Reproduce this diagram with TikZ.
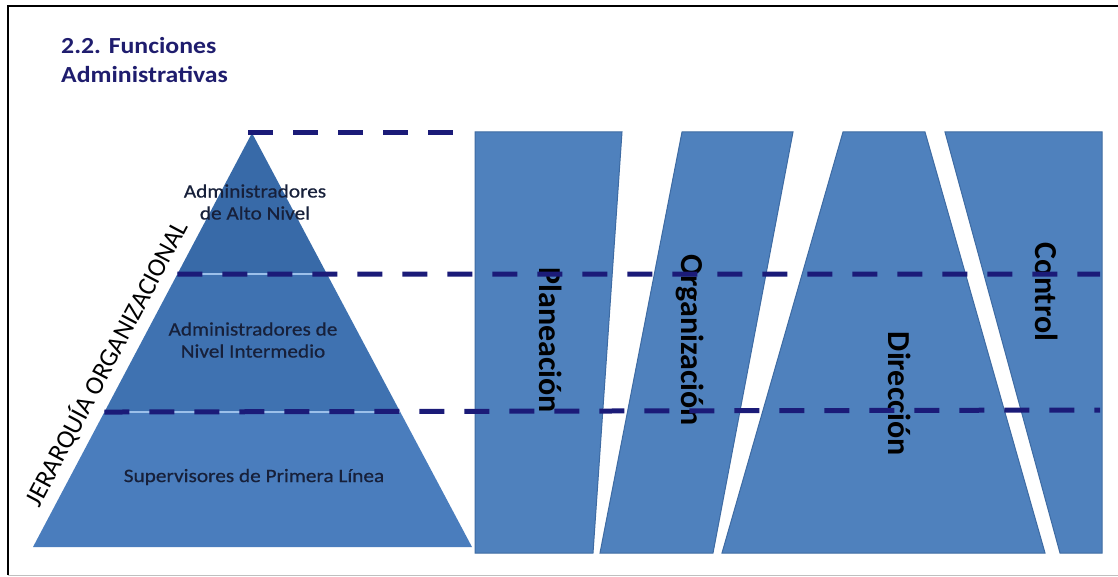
\documentclass[tikz,border=0pt]{standalone}
\usepackage{fontspec}
\setmainfont{Carlito}[FakeStretch=1.12]
\newfontfamily\vfont{Carlito}
\newfontfamily\semibold{Carlito}[FakeStretch=1.12,FakeBold=0.6]
\usetikzlibrary{calc}
\definecolor{navy}{HTML}{1B1B78}
\definecolor{titlecol}{HTML}{1F1D6E}
\definecolor{pyrtop}{HTML}{386AA8}
\definecolor{pyrmid}{HTML}{3F72B1}
\definecolor{pyrbot}{HTML}{4A7DBD}
\definecolor{boxfill}{HTML}{4F81BD}
\definecolor{boxline}{HTML}{3E6BA3}
\definecolor{lbl}{HTML}{17203A}
\definecolor{glow}{HTML}{9CC0EA}
\begin{document}
\begin{tikzpicture}[x=1pt,y=-1pt,
  dashline/.style={draw=navy,line width=5pt,dash pattern=on 25pt off 20pt},
  glowline/.style={draw=glow,line width=2.5pt},
  colbox/.style={fill=boxfill,draw=boxline,line width=1pt},
  pyrlbl/.style={text=lbl,font=\semibold\fontsize{19}{22}\selectfont,align=center,inner sep=0pt},
  vlbl/.style={text=black,font=\vfont\bfseries\fontsize{32}{36}\selectfont,rotate=-90,inner sep=0pt},
  ttl/.style={text=titlecol,font=\bfseries\fontsize{23}{29}\selectfont,inner sep=0pt,anchor=base west}]
\useasboundingbox (0,0) rectangle (1118,577);
\fill[white] (0,0) rectangle (1118,577);
% frame
\draw[black,line width=1.2pt] (8,575) -- (8,6) -- (1118,6);
\draw[gray!50,line width=0.8pt] (8,575) -- (1118,575);
% title
\node[ttl] (t1) at (61,54) {2.2. Funciones};
\node[ttl] (t2) at (61,83) {Administrativas};
% pyramid
\coordinate (apex) at (252,133);
\coordinate (bl) at (33,547);
\coordinate (br) at (472,547);
\coordinate (l1) at ($(apex)!0.3406!(bl)$);
\coordinate (r1) at ($(apex)!0.3406!(br)$);
\coordinate (l2) at ($(apex)!0.674!(bl)$);
\coordinate (r2) at ($(apex)!0.674!(br)$);
\fill[pyrtop] (apex) -- (l1) -- (r1) -- cycle;
\fill[pyrmid] (l1) -- (l2) -- (r2) -- (r1) -- cycle;
\fill[pyrbot] (l2) -- (bl) -- (br) -- (r2) -- cycle;
% columns
\draw[colbox] (475,132) -- (622,132) -- (593,553) -- (475,553) -- cycle;
\draw[colbox] (682,132) -- (793,132) -- (713,553) -- (600,553) -- cycle;
\draw[colbox] (843,132) -- (925,132) -- (1045,553) -- (722,553) -- cycle;
\draw[colbox] (945,132) -- (1102,132) -- (1102,553) -- (1060,553) -- cycle;
% pyramid labels
\node[pyrlbl] (alto) at (255,202) {Administradores\\de Alto Nivel};
\node[pyrlbl] (inter) at (253,340) {Administradores de\\Nivel Intermedio};
\node[pyrlbl] (sup) at (254,477) {Supervisores de Primera Línea};
% hierarchy label
\node[text=black,font=\vfont\fontsize{26}{28}\selectfont,rotate=62,inner sep=0pt] (jer) at (106,363) {JERARQUÍA ORGANIZACIONAL};
% column labels
\node[vlbl] (plan) at (551,340) {Planeación};
\node[vlbl] (org) at (690,340) {Organización};
\node[vlbl] (dir) at (900,394) {Dirección};
\node[vlbl] (ctl) at (1047,292) {Control};
% dashed lines
\coordinate (e0) at (455,133);
\coordinate (e1) at (1100,274);
\coordinate (e2) at (1100,410);
\draw[glowline] (l1) -- (r1);
\draw[glowline] (l2) -- (r2);
\draw[dashline] (248,133) -- (e0);
\draw[dashline] (l1) -- (e1);
\draw[dashline] (l2) -- (e2);
\end{tikzpicture}
\end{document}
